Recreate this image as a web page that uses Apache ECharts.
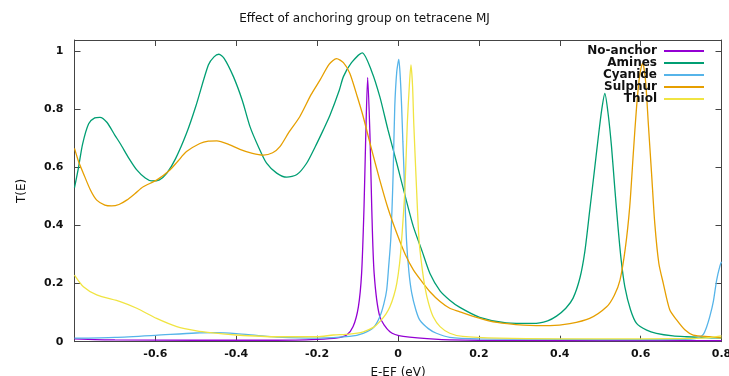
<!DOCTYPE html>
<html>
<head>
<meta charset="utf-8">
<script src="https://cdn.jsdelivr.net/npm/echarts@6/dist/echarts.min.js"></script>
<style>html,body{margin:0;padding:0;background:#fff}#c{width:729px;height:376px}</style>
</head>
<body>
<div id="c"></div>
<script>
// ---- data ----
var xTicks = [-0.6, -0.4, -0.2, 0, 0.2, 0.4, 0.6, 0.8];
var yTicks = [0, 0.2, 0.4, 0.6, 0.8, 1];
var seriesNames = ['No-anchor', 'Amines', 'Cyanide', 'Sulphur', 'Thiol'];

var noAnchorE = [-0.8, -0.7, -0.5, -0.3, -0.2, -0.15, -0.127, -0.111, -0.098, -0.09, -0.084, -0.08, -0.075, -0.069, -0.065, -0.059, -0.045, -0.02, 0.013, 0.1, 0.2, 0.4, 0.6, 0.8];
var noAnchorT = [0.010, 0.006, 0.005, 0.005, 0.008, 0.013, 0.023, 0.052, 0.12, 0.235, 0.464, 0.694, 0.909, 0.694, 0.464, 0.235, 0.086, 0.034, 0.018, 0.008, 0.005, 0.004, 0.004, 0.004];

var aminesE = [-0.8, -0.79, -0.78, -0.765, -0.75, -0.737, -0.72, -0.7, -0.687, -0.665, -0.646, -0.625, -0.609, -0.59, -0.572, -0.55, -0.523, -0.5, -0.469, -0.455, -0.443, -0.43, -0.407, -0.385, -0.366, -0.345, -0.325, -0.3, -0.275, -0.25, -0.226, -0.205, -0.185, -0.168, -0.145, -0.135, -0.115, -0.0885, -0.065, -0.045, -0.025, -0.003, 0.018, 0.038, 0.06, 0.079, 0.104, 0.128, 0.153, 0.202, 0.268, 0.334, 0.37, 0.392, 0.415, 0.433, 0.45, 0.462, 0.474, 0.485, 0.495, 0.504, 0.5115, 0.52, 0.528, 0.536, 0.544, 0.552, 0.561, 0.575, 0.59, 0.615, 0.639, 0.68, 0.713, 0.76, 0.8];
var aminesT = [0.53, 0.60, 0.68, 0.75, 0.77, 0.772, 0.755, 0.71, 0.682, 0.63, 0.591, 0.563, 0.553, 0.557, 0.579, 0.63, 0.717, 0.81, 0.952, 0.98, 0.989, 0.975, 0.912, 0.83, 0.740, 0.67, 0.614, 0.58, 0.566, 0.575, 0.614, 0.67, 0.728, 0.78, 0.866, 0.912, 0.96, 0.994, 0.93, 0.843, 0.73, 0.614, 0.50, 0.396, 0.31, 0.235, 0.175, 0.143, 0.118, 0.084, 0.065, 0.063, 0.072, 0.088, 0.115, 0.150, 0.22, 0.31, 0.45, 0.58, 0.70, 0.80, 0.854, 0.78, 0.671, 0.53, 0.396, 0.28, 0.189, 0.11, 0.063, 0.04, 0.029, 0.02, 0.017, 0.014, 0.013];

var cyanideE = [-0.8, -0.7, -0.6, -0.5, -0.45, -0.4, -0.35, -0.3, -0.2, -0.12, -0.086, -0.06, -0.045, -0.035, -0.028, -0.023, -0.018, -0.015, -0.012, -0.008, -0.003, 0.002, 0.006, 0.009, 0.012, 0.015, 0.021, 0.027, 0.034, 0.044, 0.054, 0.075, 0.095, 0.128, 0.2, 0.4, 0.6, 0.7, 0.73, 0.745, 0.755, 0.763, 0.771, 0.78, 0.788, 0.796, 0.8];
var cyanideT = [0.012, 0.015, 0.022, 0.03, 0.031, 0.028, 0.022, 0.016, 0.012, 0.018, 0.029, 0.05, 0.086, 0.13, 0.178, 0.26, 0.35, 0.45, 0.579, 0.808, 0.93, 0.971, 0.90, 0.808, 0.69, 0.579, 0.35, 0.24, 0.167, 0.11, 0.074, 0.045, 0.029, 0.015, 0.01, 0.008, 0.007, 0.008, 0.01, 0.015, 0.025, 0.05, 0.086, 0.14, 0.212, 0.26, 0.275];

var sulphurE = [-0.8, -0.79, -0.778, -0.76, -0.745, -0.725, -0.708, -0.69, -0.671, -0.65, -0.63, -0.597, -0.564, -0.545, -0.523, -0.49, -0.469, -0.448, -0.42, -0.391, -0.36, -0.333, -0.31, -0.292, -0.27, -0.243, -0.215, -0.193, -0.17, -0.152, -0.135, -0.119, -0.1, -0.086, -0.065, -0.045, -0.025, -0.003, 0.018, 0.038, 0.06, 0.079, 0.104, 0.128, 0.153, 0.19, 0.227, 0.27, 0.31, 0.376, 0.425, 0.474, 0.516, 0.535, 0.549, 0.562, 0.573, 0.582, 0.59, 0.598, 0.605, 0.612, 0.619, 0.627, 0.635, 0.645, 0.656, 0.672, 0.689, 0.71, 0.73, 0.771, 0.8];
var sulphurT = [0.665, 0.62, 0.579, 0.52, 0.487, 0.47, 0.467, 0.472, 0.487, 0.51, 0.533, 0.556, 0.591, 0.62, 0.654, 0.682, 0.690, 0.691, 0.68, 0.662, 0.648, 0.642, 0.65, 0.671, 0.72, 0.774, 0.85, 0.900, 0.955, 0.974, 0.96, 0.923, 0.84, 0.774, 0.66, 0.556, 0.46, 0.373, 0.30, 0.247, 0.205, 0.172, 0.138, 0.115, 0.103, 0.085, 0.071, 0.062, 0.057, 0.055, 0.062, 0.08, 0.12, 0.16, 0.212, 0.32, 0.464, 0.65, 0.808, 0.92, 0.958, 0.90, 0.751, 0.58, 0.407, 0.27, 0.201, 0.11, 0.075, 0.04, 0.023, 0.017, 0.013];

var thiolE = [-0.8, -0.778, -0.745, -0.687, -0.646, -0.597, -0.547, -0.498, -0.465, -0.4, -0.3, -0.2, -0.16, -0.12, -0.086, -0.06, -0.045, -0.03, -0.02, -0.01, -0.003, 0.004, 0.009, 0.017, 0.023, 0.028, 0.032, 0.036, 0.039, 0.046, 0.052, 0.059, 0.0665, 0.076, 0.087, 0.104, 0.128, 0.16, 0.25, 0.4, 0.6, 0.75, 0.8];
var thiolT = [0.229, 0.189, 0.161, 0.138, 0.115, 0.080, 0.052, 0.037, 0.031, 0.023, 0.017, 0.017, 0.023, 0.026, 0.034, 0.05, 0.069, 0.095, 0.12, 0.16, 0.201, 0.27, 0.35, 0.522, 0.751, 0.88, 0.952, 0.88, 0.751, 0.522, 0.35, 0.26, 0.189, 0.13, 0.086, 0.052, 0.029, 0.018, 0.012, 0.01, 0.01, 0.012, 0.02];

var colors = ['#9400d3', '#009e73', '#56b4e9', '#e69f00', '#f0e442'];

function zip(e, t) { return e.map(function (v, i) { return [v, t[i]]; }); }
var allData = [zip(noAnchorE, noAnchorT), zip(aminesE, aminesT), zip(cyanideE, cyanideT), zip(sulphurE, sulphurT), zip(thiolE, thiolT)];

var axisLineStyle = { color: '#444', width: 1 };
var labelFont = { color: '#111', fontFamily: 'DejaVu Sans', fontWeight: 'bold', fontSize: 11 };

var chart = echarts.init(document.getElementById('c'), null, { renderer: 'canvas' });
chart.setOption({
  backgroundColor: '#fff',
  animation: false,
  title: {
    text: 'Effect of anchoring group on tetracene MJ',
    left: 'center', top: 13, padding: 0,
    textStyle: { fontFamily: 'DejaVu Sans', fontSize: 12, fontWeight: 'normal', color: '#111' }
  },
  legend: {
    orient: 'vertical', right: 24, top: 45, padding: 0,
    align: 'right', itemWidth: 40, itemHeight: 12, itemGap: 0,
    data: seriesNames,
    itemStyle: { opacity: 0 },
    textStyle: { fontFamily: 'DejaVu Sans', fontWeight: 'bold', fontSize: 12, color: '#111', width: 90, align: 'right', lineHeight: 12, padding: [0, 2, 0, 0] }
  },
  grid: { left: 74.5, right: 7.5, top: 40, bottom: 34.3, outerBoundsMode: 'none', containLabel: false },
  xAxis: [{
    type: 'value', min: -0.8, max: 0.8, interval: 0.2, position: 'bottom',
    name: 'E-EF (eV)', nameLocation: 'middle', nameGap: 25,
    nameTextStyle: { fontFamily: 'DejaVu Sans', fontSize: 12, color: '#111' },
    axisLine: { onZero: false, lineStyle: axisLineStyle },
    axisTick: { inside: true, length: 6, customValues: xTicks, lineStyle: axisLineStyle },
    axisLabel: Object.assign({ customValues: xTicks, margin: 7 }, labelFont),
    splitLine: { show: false }
  }, {
    type: 'value', min: -0.8, max: 0.8, interval: 0.2, position: 'top',
    axisLine: { onZero: false, lineStyle: axisLineStyle },
    axisTick: { inside: true, length: 6, customValues: xTicks, lineStyle: axisLineStyle },
    axisLabel: { show: false },
    splitLine: { show: false }
  }],
  yAxis: [{
    type: 'value', min: 0, max: 1.038, interval: 0.2, position: 'left',
    name: 'T(E)', nameLocation: 'middle', nameGap: 47,
    nameTextStyle: { fontFamily: 'DejaVu Sans', fontSize: 12, color: '#111' },
    axisLine: { show: true, onZero: false, lineStyle: axisLineStyle },
    axisTick: { show: true, inside: true, length: 6, customValues: yTicks, lineStyle: axisLineStyle },
    axisLabel: Object.assign({ customValues: yTicks, margin: 11 }, labelFont),
    splitLine: { show: false }
  }, {
    type: 'value', min: 0, max: 1.038, interval: 0.2, position: 'right',
    axisLine: { show: true, onZero: false, lineStyle: axisLineStyle },
    axisTick: { show: true, inside: true, length: 6, customValues: yTicks, lineStyle: axisLineStyle },
    axisLabel: { show: false },
    splitLine: { show: false }
  }],
  series: seriesNames.map(function (n, i) {
    return {
      name: n, type: 'line', xAxisIndex: 0, yAxisIndex: 0,
      data: allData[i], symbol: 'none', smooth: 0.25,
      lineStyle: { color: colors[i], width: 1.3 },
      itemStyle: { color: colors[i] }
    };
  })
});
</script>
</body>
</html>
